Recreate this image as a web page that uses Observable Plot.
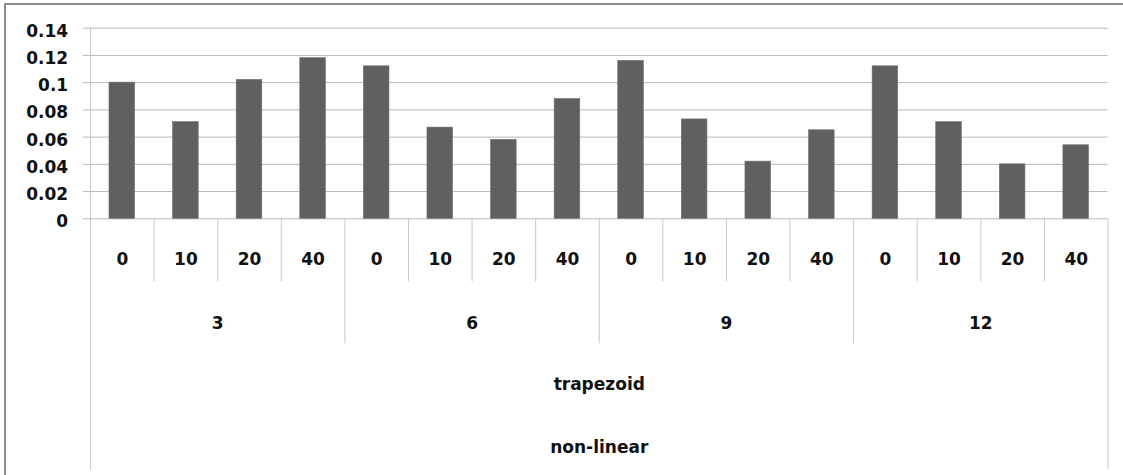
<!DOCTYPE html>
<html>
<head>
<meta charset="utf-8">
<script src="https://cdn.jsdelivr.net/npm/d3@7"></script>
<script src="https://cdn.jsdelivr.net/npm/@observablehq/plot@0.6"></script>
<style>
  html, body { margin: 0; padding: 0; background: #fff; overflow: hidden; }
  #chart { position: relative; width: 1123px; height: 475px; }
  #chart svg { display: block; }
  /* outer chart border (only top and left edges fall inside the page) */
  #chart .edge {
    position: absolute; left: 4px; top: 3px; right: -20px; bottom: -20px;
    border-top: 2px solid #8e8e8e; border-left: 2px solid #8e8e8e;
    pointer-events: none;
  }
</style>
</head>
<body>
<div id="chart"><div class="edge"></div></div>
<script>
// Category hierarchy: model > shape > group > level
const models = ["non-linear"];
const shapes = ["trapezoid"];
const groups = ["3", "6", "9", "12"];
const levels = ["0", "10", "20", "40"];

// One value per (group, level), in group order
const values = [
  0.100, 0.071, 0.102, 0.118,
  0.112, 0.067, 0.058, 0.088,
  0.116, 0.073, 0.042, 0.065,
  0.112, 0.071, 0.040, 0.054
];

const yTicks = [0, 0.02, 0.04, 0.06, 0.08, 0.1, 0.12, 0.14];

// Flatten into slots along the category axis
const rows = groups.flatMap((g, gi) =>
  levels.map((l, li) => {
    const slot = gi * levels.length + li;
    return { group: g, level: l, slot, value: values[slot] };
  })
);
const nSlots = rows.length;
const groupRows = groups.map((g, gi) => ({
  group: g,
  start: gi * levels.length,
  mid: gi * levels.length + levels.length / 2
}));

const levelDividers = rows.filter(d => d.slot % levels.length !== 0).map(d => d.slot);
const groupDividers = groupRows.slice(1).map(d => d.start);
const outerEdges = [0, nSlots];

const gridColor = "#b8b8b8";
const lineColor = "#c8c8c8";
const atZero = () => 0;

const chart = Plot.plot({
  width: 1123,
  height: 475,
  marginLeft: 90,
  marginRight: 15.5,
  marginTop: 27.7,
  marginBottom: 256.7,
  style: {
    fontFamily: "'DejaVu Sans', sans-serif",
    fontSize: "17px",
    fontWeight: "bold",
    color: "#111",
    background: "transparent"
  },
  x: { domain: [0, nSlots], axis: null },
  y: { domain: [0, 0.14], axis: null },
  marks: [
    // horizontal gridlines with short outside tick marks
    Plot.ruleY(yTicks, { y: d => d, stroke: gridColor, insetLeft: -7 }),
    // vertical value-axis line
    Plot.ruleX([0], { x: d => d, stroke: lineColor }),
    // bars
    Plot.rectY(rows, {
      x1: "slot",
      x2: d => d.slot + 1,
      y: "value",
      insetLeft: 19,
      insetRight: 19,
      fill: "#606060",
      stroke: "#6e6e6e",
      strokeWidth: 0.6
    }),
    // multi-level category dividers
    Plot.ruleX(levelDividers, { x: d => d, y1: atZero, y2: atZero, insetBottom: -63, stroke: lineColor }),
    Plot.ruleX(groupDividers, { x: d => d, y1: atZero, y2: atZero, insetBottom: -125, stroke: lineColor }),
    Plot.ruleX(outerEdges, { x: d => d, y1: atZero, y2: atZero, insetBottom: -251, stroke: lineColor }),
    // value axis labels
    Plot.axisY(yTicks, {
      label: null,
      tickSize: 0,
      tickPadding: 22.3,
      tickFormat: d3.format("~g"),
      dy: 3,
      fill: "#111"
    }),
    // category labels, one row per level of the hierarchy
    Plot.text(rows, { x: d => d.slot + 0.5, y: atZero, text: "level", dy: 40.3, fill: "#111" }),
    Plot.text(groupRows, { x: "mid", y: atZero, text: "group", dy: 104.6, fill: "#111" }),
    Plot.text(shapes, { x: () => nSlots / 2, y: atZero, text: d => d, dy: 165.3, fill: "#111" }),
    Plot.text(models, { x: () => nSlots / 2, y: atZero, text: d => d, dy: 228.3, fill: "#111" })
  ]
});

document.getElementById("chart").prepend(chart);
</script>
</body>
</html>
